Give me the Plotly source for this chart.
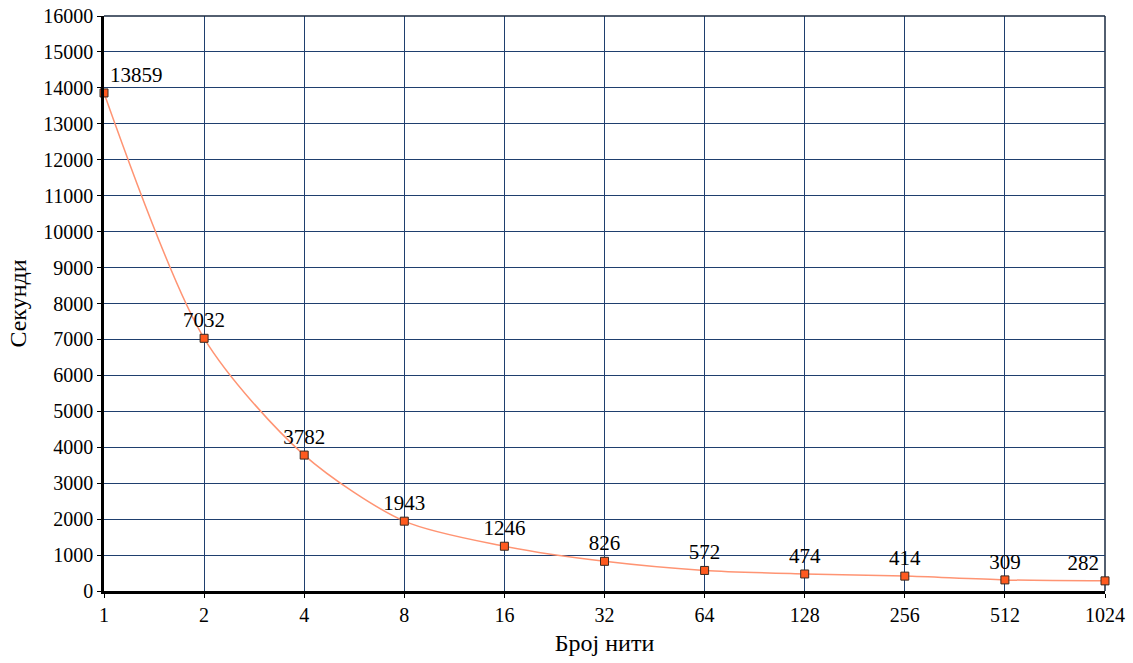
import plotly.graph_objects as go

threads = ["1", "2", "4", "8", "16", "32", "64", "128", "256", "512", "1024"]
seconds = [13859, 7032, 3782, 1943, 1246, 826, 572, 474, 414, 309, 282]
label_pos = ["top right"] + ["top center"] * 9 + ["top left"]
y_ticks = list(range(0, 16001, 1000))

SERIF = "Liberation Serif"

fig = go.Figure()
fig.add_trace(go.Scatter(
    x=threads, y=seconds, mode="lines+markers+text",
    text=[str(v) for v in seconds], textposition=label_pos,
    textfont=dict(family=SERIF, size=21, color="#000000"),
    line=dict(color="#ff9473", width=1.5, shape="spline", smoothing=0.8),
    marker=dict(symbol="square", size=8, color="#ff5a1f",
                line=dict(color="#3a2a20", width=1)),
    cliponaxis=False, showlegend=False,
))

fig.update_layout(
    width=1133, height=663,
    margin=dict(l=104, r=28, t=16, b=72, autoexpand=False),
    paper_bgcolor="white", plot_bgcolor="white",
    font=dict(family=SERIF, size=20, color="#000000"),
    xaxis=dict(
        type="category", range=[0, 10], automargin=False,
        showgrid=True, gridcolor="#1f3f6e", gridwidth=1,
        showline=True, linecolor="#000000", linewidth=2.5,
        ticks="outside", ticklen=4, tickcolor="#000000",
        tickfont=dict(family=SERIF, size=20, color="#000000"),
        ticklabeloverflow="allow",
        title=dict(text="Број нити", font=dict(family=SERIF, size=24), standoff=10),
        zeroline=False,
    ),
    yaxis=dict(
        range=[0, 16000], tickvals=y_ticks, tickformat="d", automargin=False,
        showgrid=True, gridcolor="#1f3f6e", gridwidth=1,
        showline=True, linecolor="#000000", linewidth=2.5,
        ticks="outside", ticklen=4, tickcolor="#000000",
        tickfont=dict(family=SERIF, size=20, color="#000000"),
        ticklabeloverflow="allow",
        title=dict(text="Секунди", font=dict(family=SERIF, size=24), standoff=10),
        zeroline=False,
    ),
    shapes=[
        dict(type="line", xref="paper", yref="paper", x0=0, x1=1, y0=1, y1=1,
             line=dict(color="#1a2a40", width=1.5), layer="above"),
        dict(type="line", xref="paper", yref="paper", x0=1, x1=1, y0=0, y1=1,
             line=dict(color="#1a2a40", width=1.5), layer="below"),
    ],
)

fig.write_html(
    "out.html",
    config={"displayModeBar": False},
    post_script="document.body.style.margin='0';document.body.style.overflow='hidden';",
)
